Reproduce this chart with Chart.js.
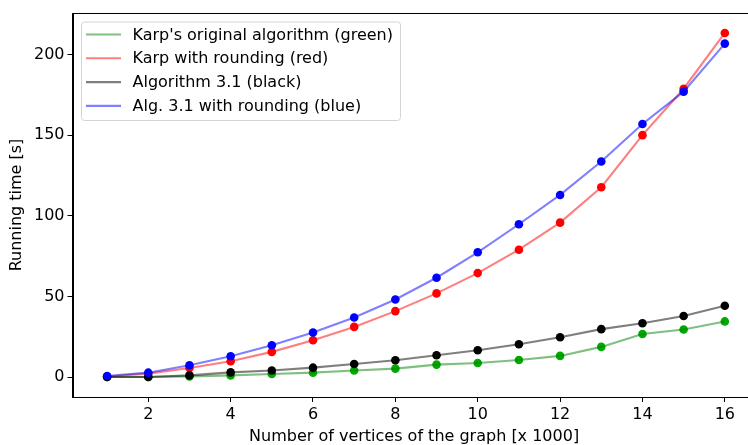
<!DOCTYPE html>
<html>
<head>
<meta charset="utf-8">
<script src="https://cdn.jsdelivr.net/npm/chart.js@4.4.1/dist/chart.umd.min.js"></script>
<style>
  html, body { margin: 0; padding: 0; background: #fff; overflow: hidden; }
  #wrap { width: 760px; height: 445px; }
</style>
</head>
<body>
<div id="wrap"><canvas id="c" width="760" height="445"></canvas></div>
<script>
const vertices = [1, 2, 3, 4, 5, 6, 7, 8, 9, 10, 11, 12, 13, 14, 15, 16];
const karpOriginal = [0.0, 0.0, 0.4, 1.0, 1.9, 2.7, 4.0, 5.2, 7.7, 8.7, 10.6, 13.1, 18.7, 26.7, 29.5, 34.5];
const karpRounding = [0.3, 2.1, 5.6, 9.8, 15.6, 22.8, 31.1, 40.9, 51.9, 64.5, 79.0, 95.8, 117.8, 150.1, 178.9, 213.5];
const alg31 = [0.0, 0.0, 1.0, 2.9, 4.0, 5.8, 8.1, 10.4, 13.5, 16.6, 20.3, 24.7, 29.7, 33.4, 37.9, 44.2];
const alg31Rounding = [0.6, 2.7, 7.3, 12.9, 19.7, 27.6, 36.9, 48.1, 61.6, 77.4, 94.8, 113.0, 133.7, 157.0, 177.1, 206.9];
const yTicks = [0, 50, 100, 150, 200];
const xTicks = [2, 4, 6, 8, 10, 12, 14, 16];

const seriesLabels = [
  "Karp's original algorithm (green)",
  "Karp with rounding (red)",
  "Algorithm 3.1 (black)",
  "Alg. 3.1 with rounding (blue)"
];
const seriesValues = [karpOriginal, karpRounding, alg31, alg31Rounding];
const lineColors = ['rgba(0,128,0,0.5)', 'rgba(255,0,0,0.5)', 'rgba(0,0,0,0.5)', 'rgba(0,0,255,0.5)'];
const markerColors = ['#00aa00', '#ff0000', '#000000', '#0000ff'];

const FONT = 'DejaVu Sans';
const FS = 16;
const datasets = [];
let ord = 8;
seriesValues.forEach((vals, i) => {
  const pts = vertices.map((x, k) => ({x: x, y: vals[k]}));
  datasets.push({
    label: seriesLabels[i] + '__pts',
    isPts: true,
    data: pts,
    showLine: false,
    pointRadius: 4.3,
    pointBackgroundColor: markerColors[i],
    pointBorderWidth: 0,
    borderColor: markerColors[i],
    order: ord--
  });
  datasets.push({
    label: seriesLabels[i],
    data: pts,
    showLine: true,
    borderColor: lineColors[i],
    borderWidth: 2.1,
    pointRadius: 0,
    tension: 0,
    order: ord--
  });
});

const legendPlugin = {
  id: 'mplLegend',
  afterDraw(chart) {
    const ctx = chart.ctx;
    const items = chart.data.datasets.filter(d => !d.isPts);
    const x0 = 81, y0 = 21.5, w = 319, h = 98.5;
    ctx.save();
    ctx.fillStyle = 'rgba(255,255,255,0.8)';
    ctx.strokeStyle = '#d4d4d4';
    ctx.lineWidth = 1;
    ctx.beginPath();
    ctx.roundRect(x0 + 0.5, y0 + 0.5, w, h, 3);
    ctx.fill();
    ctx.stroke();
    ctx.font = FS + 'px "' + FONT + '"';
    ctx.textBaseline = 'middle';
    ctx.textAlign = 'left';
    items.forEach((d, i) => {
      const y = 34.5 + i * 23.8;
      ctx.strokeStyle = d.borderColor;
      ctx.lineWidth = 2.1;
      ctx.beginPath();
      ctx.moveTo(86, y);
      ctx.lineTo(121, y);
      ctx.stroke();
      ctx.fillStyle = '#000';
      ctx.fillText(d.label, 132.5, y + 1);
    });
    ctx.restore();
  }
};

new Chart(document.getElementById('c'), {
  type: 'scatter',
  data: { datasets: datasets },
  options: {
    responsive: false,
    animation: false,
    layout: { padding: { top: 13, right: 4, left: 0, bottom: 0 } },
    plugins: {
      legend: { display: false },
      tooltip: { enabled: false }
    },
    scales: {
      x: {
        type: 'linear',
        min: 0.16,
        max: 16.75,
        afterBuildTicks: (s) => { s.ticks = xTicks.map(v => ({value: v})); },
        afterFit: (s) => { s.height = 48; },
        border: { display: true, color: '#000', width: 1 },
        grid: { display: true, drawOnChartArea: false, drawTicks: true, tickLength: 5, color: '#000', tickColor: '#000' },
        ticks: { color: '#000', font: { family: FONT, size: FS }, padding: 3, maxRotation: 0, autoSkip: false },
        title: { display: true, text: 'Number of vertices of the graph [x 1000]', color: '#000', font: { family: FONT, size: FS, lineHeight: 1 }, padding: { top: 2, bottom: 0 } }
      },
      y: {
        type: 'linear',
        min: -12.4,
        max: 225.9,
        afterBuildTicks: (s) => { s.ticks = yTicks.map(v => ({value: v})); },
        afterFit: (s) => { s.width = 72.5; },
        border: { display: true, color: '#000', width: 1 },
        grid: { display: true, drawOnChartArea: false, drawTicks: true, tickLength: 5, color: '#000', tickColor: '#000' },
        ticks: { color: '#000', font: { family: FONT, size: FS }, padding: 3, autoSkip: false },
        title: { display: true, text: 'Running time [s]', color: '#000', font: { family: FONT, size: FS }, padding: { top: 7, bottom: 4 } }
      }
    }
  },
  plugins: [legendPlugin, {
    id: 'frame',
    afterDraw(chart) {
      const a = chart.chartArea, ctx = chart.ctx;
      ctx.save();
      ctx.strokeStyle = '#000';
      ctx.lineWidth = 1;
      ctx.strokeRect(Math.round(a.left) + 0.5, Math.round(a.top) + 0.5, a.right - a.left, a.bottom - a.top);
      ctx.restore();
    }
  }]
});
</script>
</body>
</html>
